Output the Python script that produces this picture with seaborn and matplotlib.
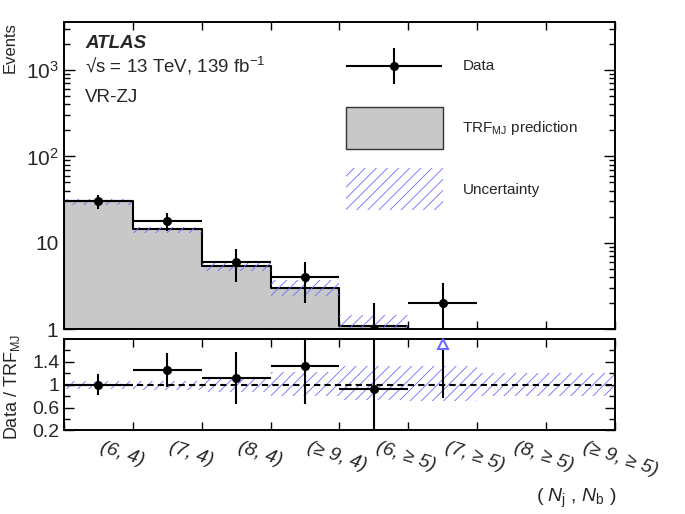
import numpy as np
import pandas as pd
import matplotlib
matplotlib.use("Agg")
import matplotlib.pyplot as plt
import matplotlib.patches as mpatches
from matplotlib.legend_handler import HandlerErrorbar
from matplotlib.ticker import FixedLocator, FixedFormatter, LogLocator, NullFormatter
import seaborn as sns

# ---------------- data ----------------
bin_labels = ["(6, 4)", "(7, 4)", "(8, 4)", "(\u2265 9, 4)",
              "(6, \u2265 5)", "(7, \u2265 5)", "(8, \u2265 5)", "(\u2265 9, \u2265 5)"]
data = np.array([30, 18, 6, 4, 1, 2, 0, 0], dtype=float)
data_err = np.array([5.5, 4.2, 2.45, 2.0, 1.0, 1.41, 0.0, 0.0])
pred = np.array([30.0, 14.3, 5.35, 3.0, 1.09, 0.76, 0.0, 0.0])
unc_lo = np.array([0.92, 0.91, 0.87, 0.81, 0.74, 0.71, 0.81, 0.81])
unc_hi = np.array([1.07, 1.07, 1.14, 1.23, 1.32, 1.33, 1.20, 1.20])
main_ticks = [1, 10, 100, 1000]
main_ticklabels = ["1", "10", "$10^{2}$", "$10^{3}$"]
ratio_ticks = [0.2, 0.6, 1.0, 1.4]
ratio_ticklabels = ["0.2", "0.6", "1", "1.4"]

# ---------------- style ----------------
sns.set_theme(style="ticks")
plt.rcParams["font.family"] = ["Liberation Sans", "DejaVu Sans"]
plt.rcParams["mathtext.fontset"] = "custom"
plt.rcParams["mathtext.rm"] = "Liberation Sans"
plt.rcParams["mathtext.it"] = "Liberation Sans:italic"
plt.rcParams["mathtext.bf"] = "Liberation Sans:bold"
plt.rcParams["hatch.linewidth"] = 0.6
plt.rcParams["axes.linewidth"] = 1.4
plt.rcParams["axes.edgecolor"] = "black"

GRAY = "#c8c8c8"
HATCH = "#6b6bff"
HP = "///"


class CenteredErrorbarHandler(HandlerErrorbar):
    def create_artists(self, legend, orig_handle, xdescent, ydescent,
                       width, height, fontsize, trans):
        return super().create_artists(legend, orig_handle, xdescent, 2 * ydescent,
                                      width, height, fontsize, trans)


n = len(bin_labels)
edges = np.arange(n + 1)
centers = edges[:-1] + 0.5

fig = plt.figure(figsize=(6.85, 5.14), dpi=100)
ax = fig.add_axes([0.0934, 0.3599, 0.8044, 0.5973])
ax2 = fig.add_axes([0.0934, 0.1625, 0.8044, 0.178])

# ---------------- main panel ----------------
df = pd.DataFrame({"bin": centers, "pred": pred})
sns.histplot(data=df, x="bin", weights="pred", bins=n, binrange=(0, n), element="step",
             fill=True, facecolor=GRAY, edgecolor="black", linewidth=1.5,
             alpha=1, ax=ax)
ax.set_yscale("log")

ax.bar(centers, pred * (unc_hi - unc_lo), bottom=np.where(pred > 0, pred * unc_lo, 1e-3),
       width=1.0, fill=False, hatch=HP, edgecolor=HATCH, linewidth=0)

m = data > 0
eb = ax.errorbar(centers[m], data[m], xerr=0.5,
                 yerr=[np.minimum(data_err[m], data[m] * 0.999), data_err[m]],
                 fmt="o", color="black", ms=5.5, elinewidth=1.5, capsize=0,
                 label="Data", zorder=5)

ax.set_xlim(0, n)
ax.set_ylim(1, 3600)
ax.set_xlabel("")
ax.set_ylabel("Events", loc="top", fontsize=12)
ax.yaxis.set_label_coords(-0.085, 1.0)
ax.yaxis.set_major_locator(FixedLocator(main_ticks))
ax.yaxis.set_major_formatter(FixedFormatter(main_ticklabels))
ax.yaxis.set_minor_locator(LogLocator(base=10, subs=np.arange(2, 10)))
ax.yaxis.set_minor_formatter(NullFormatter())
ax.set_xticks(edges)
ax.set_xticklabels([])
ax.tick_params(axis="both", which="both", direction="in", top=True, right=True,
               width=1.0, color="black")
ax.tick_params(axis="y", which="major", length=8, labelsize=15, pad=4)
ax.tick_params(axis="y", which="minor", length=4)
ax.tick_params(axis="x", which="major", length=6)

ax.text(0.038, 0.915, "ATLAS", transform=ax.transAxes, fontsize=13.5,
        fontweight="bold", fontstyle="italic", va="baseline")
ax.text(0.038, 0.834, "\u221as = 13 TeV, 139 fb$^{-1}$", transform=ax.transAxes,
        fontsize=13.5, va="baseline")
ax.text(0.038, 0.739, "VR-ZJ", transform=ax.transAxes, fontsize=13.5, va="baseline")

h_pred = mpatches.Patch(facecolor=GRAY, edgecolor="#333333", linewidth=1.0,
                        label="TRF$_{\\rm MJ}$ prediction")
h_unc = mpatches.Patch(facecolor="none", edgecolor=HATCH, hatch=HP, linewidth=0,
                       label="Uncertainty")
ax.legend(handles=[eb, h_pred, h_unc],
          labels=["Data", "TRF$_{\\rm MJ}$ prediction", "Uncertainty"],
          handler_map={type(eb): CenteredErrorbarHandler(xerr_size=3.17, yerr_size=1.18)},
          loc="upper left", bbox_to_anchor=(0.511, 0.925), frameon=False,
          fontsize=11, handlelength=6.35, handleheight=3.85, labelspacing=1.29,
          handletextpad=1.3, borderpad=0, borderaxespad=0)

# ---------------- ratio panel ----------------
rlo, rhi = 0.2, 1.8
ax2.bar(centers, unc_hi - unc_lo, bottom=unc_lo, width=1.0, fill=False,
        hatch=HP, edgecolor=HATCH, linewidth=0)
ax2.axhline(1.0, color="black", ls=(0, (3, 2)), lw=1.5, zorder=3)

with np.errstate(divide="ignore", invalid="ignore"):
    ratio = np.where(pred > 0, data / np.where(pred > 0, pred, 1), np.nan)
    ratio_err = np.where(pred > 0, data_err / np.where(pred > 0, pred, 1), np.nan)

inr = (data > 0) & (ratio <= rhi)
ax2.errorbar(centers[inr], ratio[inr], xerr=0.5, yerr=ratio_err[inr],
             fmt="o", color="black", ms=5.5, elinewidth=1.5, capsize=0, zorder=5)
over = (data > 0) & (ratio > rhi)
ax2.vlines(centers[over], ratio[over] - ratio_err[over], rhi, color="black", lw=1.5, zorder=4)
ax2.plot(centers[over], np.full(over.sum(), rhi - 0.08), ls="none", marker="^",
         ms=6.5, mfc="white", mec=HATCH, mew=1.5, zorder=6, clip_on=False)

ax2.set_xlim(0, n)
ax2.set_ylim(rlo, rhi)
ax2.set_ylabel("Data / TRF$_{\\rm MJ}$", fontsize=13)
ax2.yaxis.set_label_coords(-0.076, 0.48)
ax2.yaxis.set_major_locator(FixedLocator(ratio_ticks))
ax2.yaxis.set_major_formatter(FixedFormatter(ratio_ticklabels))
ax2.yaxis.set_minor_locator(FixedLocator([0.4, 0.8, 1.2, 1.6]))
ax2.set_xticks(edges)
ax2.set_xticklabels([])
ax2.set_xticks(centers, minor=True)
ax2.set_xticklabels(bin_labels, minor=True, rotation=-18, ha="left", va="top",
                    fontstyle="italic", fontsize=14)
ax2.tick_params(axis="both", which="both", direction="in", top=True, right=True,
                width=1.0, color="black")
ax2.tick_params(axis="x", which="minor", length=0, pad=6)
ax2.tick_params(axis="x", which="major", length=6)
ax2.tick_params(axis="y", which="major", length=7, labelsize=14, pad=3)
ax2.tick_params(axis="y", which="minor", length=4)
ax2.set_xlabel("")

fig.text(617 / 685, 1 - 498 / 514, "( $N_{\\rm j}$ , $N_{\\rm b}$ )",
         ha="right", va="center", fontsize=14)

fig.savefig("out.png", dpi=100)
